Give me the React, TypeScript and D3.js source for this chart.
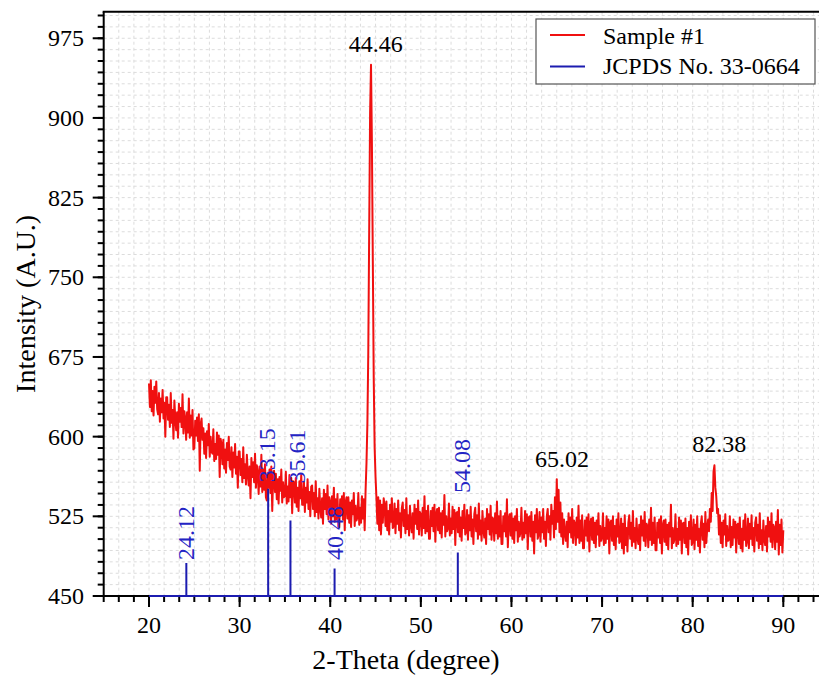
import React, { useLayoutEffect } from 'react';
import * as d3 from 'd3';

// XRD scan, 2-theta from 20 to 90 deg, 0.1 deg step
const scanStart = 20;
const scanStep = 0.1;
const intensity = [
  650, 628, 653, 624, 643, 620, 647, 632, 652, 626,
  621, 641, 614, 636, 623, 644, 617, 632, 600, 637,
  637, 616, 630, 609, 641, 613, 625, 598, 634, 617,
  606, 623, 599, 631, 614, 627, 609, 640, 603, 624,
  617, 597, 623, 604, 636, 599, 620, 601, 625, 588,
  589, 615, 601, 618, 596, 621, 568, 612, 617, 597,
  608, 584, 603, 580, 605, 592, 612, 581, 600, 586,
  584, 607, 577, 593, 579, 604, 583, 601, 562, 598,
  593, 574, 597, 570, 588, 566, 594, 578, 600, 572,
  569, 590, 562, 585, 571, 593, 565, 581, 552, 586,
  586, 564, 579, 557, 590, 561, 574, 555, 583, 565,
  554, 572, 542, 580, 562, 576, 557, 584, 552, 573,
  566, 546, 572, 553, 583, 548, 569, 550, 574, 543,
  540, 566, 552, 569, 547, 572, 530, 563, 568, 548,
  565, 541, 560, 537, 562, 549, 569, 538, 557, 543,
  544, 567, 537, 553, 539, 564, 543, 561, 528, 558,
  557, 538, 561, 534, 552, 530, 558, 542, 564, 536,
  536, 557, 529, 552, 538, 560, 532, 548, 525, 553,
  554, 532, 547, 525, 558, 529, 542, 523, 551, 533,
  524, 542, 518, 550, 532, 546, 527, 554, 522, 543,
  538, 518, 544, 525, 552, 520, 541, 522, 546, 515,
  515, 541, 527, 544, 522, 547, 512, 538, 543, 523,
  543, 519, 538, 515, 540, 527, 547, 516, 535, 521,
  524, 547, 517, 533, 519, 544, 523, 541, 512, 549,
  575, 612, 680, 795, 905, 950, 875, 765, 655, 590,
  562, 542, 518, 543, 512, 540, 508, 536, 519, 542,
  535, 516, 539, 512, 530, 508, 536, 520, 542, 514,
  516, 537, 509, 532, 518, 540, 512, 528, 505, 533,
  538, 516, 531, 509, 542, 513, 526, 507, 535, 517,
  510, 528, 504, 536, 518, 532, 513, 540, 508, 529,
  527, 507, 533, 514, 544, 509, 530, 511, 535, 504,
  504, 530, 516, 533, 511, 536, 501, 527, 532, 512,
  533, 509, 528, 505, 530, 517, 545, 506, 525, 511,
  514, 537, 507, 523, 509, 534, 513, 531, 498, 528,
  529, 510, 533, 506, 524, 502, 530, 514, 536, 508,
  510, 531, 503, 526, 512, 534, 506, 522, 499, 527,
  533, 511, 526, 504, 537, 508, 521, 502, 530, 512,
  505, 523, 499, 532, 513, 527, 508, 535, 503, 524,
  522, 502, 528, 509, 539, 504, 525, 506, 530, 499,
  499, 525, 511, 528, 506, 541, 496, 522, 527, 507,
  528, 504, 523, 500, 525, 512, 532, 501, 520, 506,
  510, 533, 503, 519, 505, 530, 509, 527, 494, 524,
  525, 506, 529, 502, 520, 490, 526, 510, 532, 504,
  508, 529, 501, 524, 510, 532, 504, 520, 497, 525,
  532, 510, 525, 503, 536, 518, 530, 505, 543, 513,
  560, 520, 550, 510, 538, 506, 528, 499, 522, 509,
  502, 520, 496, 528, 510, 524, 505, 532, 500, 521,
  518, 498, 524, 505, 535, 500, 521, 502, 526, 495,
  495, 521, 507, 524, 502, 527, 492, 518, 523, 503,
  524, 500, 519, 496, 521, 508, 528, 497, 516, 502,
  505, 528, 498, 514, 500, 525, 504, 522, 490, 519,
  521, 502, 525, 498, 516, 494, 522, 506, 528, 500,
  502, 523, 495, 518, 490, 526, 498, 514, 492, 519,
  526, 504, 519, 497, 530, 501, 514, 495, 523, 505,
  499, 517, 493, 525, 507, 521, 502, 529, 497, 518,
  516, 496, 522, 503, 533, 498, 519, 500, 524, 493,
  493, 519, 505, 522, 500, 525, 490, 516, 521, 501,
  522, 498, 517, 494, 519, 506, 536, 495, 514, 500,
  504, 527, 497, 513, 499, 524, 503, 521, 490, 518,
  519, 500, 523, 496, 514, 489, 520, 504, 526, 498,
  501, 522, 494, 517, 503, 525, 497, 513, 491, 518,
  525, 503, 518, 496, 529, 500, 513, 522, 511, 532,
  520, 547, 530, 567, 573, 552, 544, 528, 532, 508,
  526, 500, 519, 496, 521, 508, 527, 497, 516, 502,
  503, 525, 496, 515, 498, 522, 505, 520, 491, 517,
  518, 499, 524, 495, 513, 492, 521, 503, 527, 497,
  502, 523, 495, 518, 504, 526, 498, 514, 492, 519,
  524, 502, 517, 495, 528, 499, 512, 493, 521, 503,
  498, 516, 492, 524, 506, 520, 501, 528, 496, 517,
  514, 494, 520, 501, 531, 489, 517, 498, 522, 491,
  512,
];

// JCPDS 33-0664 reference lines
const refTheta = [24.12, 33.15, 35.61, 40.48, 54.08];
const refIntensity = [481, 551, 521, 476, 491];
const refLabelTheta = [24.12, 33.02, 36.33, 40.53, 54.5];
const refLabelBase = [484, 557, 556, 484, 547];

// labelled sample peaks
const peakTheta = [44.46, 65.02, 82.38];
const peakTop = [950, 559, 573];

const xTicks = [20, 30, 40, 50, 60, 70, 80, 90];
const yTicks = [450, 525, 600, 675, 750, 825, 900, 975];
const legendLabels = ['Sample #1', 'JCPDS No. 33-0664'];

const RED = '#f01010';
const BLUE = '#1c1cb0';
const txt = { fontFamily: '"Liberation Serif"' };

export default function App() {
  useLayoutEffect(() => {
    document.body.style.margin = '0';
  }, []);

  const W = 819;
  const H = 675;
  const x = d3.scaleLinear().domain([15, 93.94]).range([103.7, 819]);
  const y = d3.scaleLinear().domain([450, 1000]).range([596, 11.7]);

  const scan: [number, number][] = intensity.map((v, i) => [scanStart + i * scanStep, v]);
  const line = d3.line<[number, number]>().x(d => x(d[0])).y(d => y(d[1]));

  const refPts: [number, number][] = [[20, 450]];
  refTheta.forEach((t, i) => {
    refPts.push([t, 450], [t, refIntensity[i]], [t, 450]);
  });
  refPts.push([90, 450]);

  const xMinor = d3.range(0, 48).map(k => 15 + (k * 5) / 3).filter(v => v <= 93.9);
  const yMinor = d3.range(0, 52).map(k => 450 + (k * 75) / 7);

  const x0 = x(15);
  const y0 = y(450);
  const yTop = y(1000);

  return (
    <svg width={W} height={H} style={{ display: 'block' }}>
      <rect width={W} height={H} fill="#fff" />
      {/* grid */}
      <g stroke="#dcdcdc" strokeWidth={1} strokeDasharray="3,3">
        {xMinor.slice(1).map((v, i) => (
          <line key={'gx' + i} x1={x(v)} x2={x(v)} y1={yTop} y2={y0} />
        ))}
        {yMinor.slice(1).map((v, i) => (
          <line key={'gy' + i} x1={x0} x2={W} y1={y(v)} y2={y(v)} />
        ))}
      </g>

      {/* sample scan */}
      <path d={line(scan) || ''} fill="none" stroke={RED} strokeWidth={2} strokeLinejoin="round" />

      {/* axes */}
      <g stroke="#000" strokeWidth={2}>
        <line x1={x0} x2={x0} y1={yTop} y2={y0 + 1} />
        <line x1={x0 - 1} x2={W} y1={y0} y2={y0} />
        <line x1={x0 - 1} x2={W} y1={yTop} y2={yTop} />
        {xMinor.map((v, i) => (
          <line key={'mx' + i} x1={x(v)} x2={x(v)} y1={y0} y2={y0 + 6} />
        ))}
        {xTicks.map(v => (
          <line key={'tx' + v} x1={x(v)} x2={x(v)} y1={y0} y2={y0 + 11} />
        ))}
        {yMinor.map((v, i) => (
          <line key={'my' + i} x1={x0} x2={x0 - 6} y1={y(v)} y2={y(v)} />
        ))}
        {yTicks.map(v => (
          <line key={'ty' + v} x1={x0} x2={x0 - 11} y1={y(v)} y2={y(v)} />
        ))}
      </g>

      {/* reference sticks */}
      <path d={line(refPts) || ''} fill="none" stroke={BLUE} strokeWidth={2} />

      {/* tick labels */}
      {xTicks.map(v => (
        <text key={'lx' + v} x={x(v)} y={633} fontSize={24} textAnchor="middle" style={txt}>{v}</text>
      ))}
      {yTicks.map(v => (
        <text key={'ly' + v} x={84} y={y(v) + 8} fontSize={24} textAnchor="end" style={txt}>{v}</text>
      ))}

      {/* axis titles */}
      <text x={406} y={669} fontSize={28} textAnchor="middle" style={txt}>2-Theta (degree)</text>
      <text transform={`translate(35,${(yTop + y0) / 2}) rotate(-90)`} fontSize={28} textAnchor="middle" style={txt}>
        Intensity (A.U.)
      </text>

      {/* peak labels */}
      {peakTheta.map((t, i) => (
        <text key={'pk' + i} x={x(t) + 5} y={y(peakTop[i]) - 13} fontSize={24} textAnchor="middle" style={txt}>
          {t.toFixed(2)}
        </text>
      ))}

      {/* reference labels */}
      {refTheta.map((t, i) => (
        <text
          key={'rl' + i}
          transform={`translate(${x(refLabelTheta[i]) + 8},${y(refLabelBase[i])}) rotate(-90)`}
          fontSize={24}
          fill="#2424c4"
          style={txt}
        >
          {t.toFixed(2)}
        </text>
      ))}

      {/* legend */}
      <rect x={536} y={19} width={279} height={65} fill="#fff" stroke="#555" strokeWidth={1.2} />
      {legendLabels.map((lab, i) => (
        <g key={lab}>
          <line x1={550} x2={585} y1={35 + i * 31.5} y2={35 + i * 31.5} stroke={i === 0 ? RED : BLUE} strokeWidth={2} />
          <text x={603} y={44 + i * 30} fontSize={24} style={txt}>{lab}</text>
        </g>
      ))}
    </svg>
  );
}
